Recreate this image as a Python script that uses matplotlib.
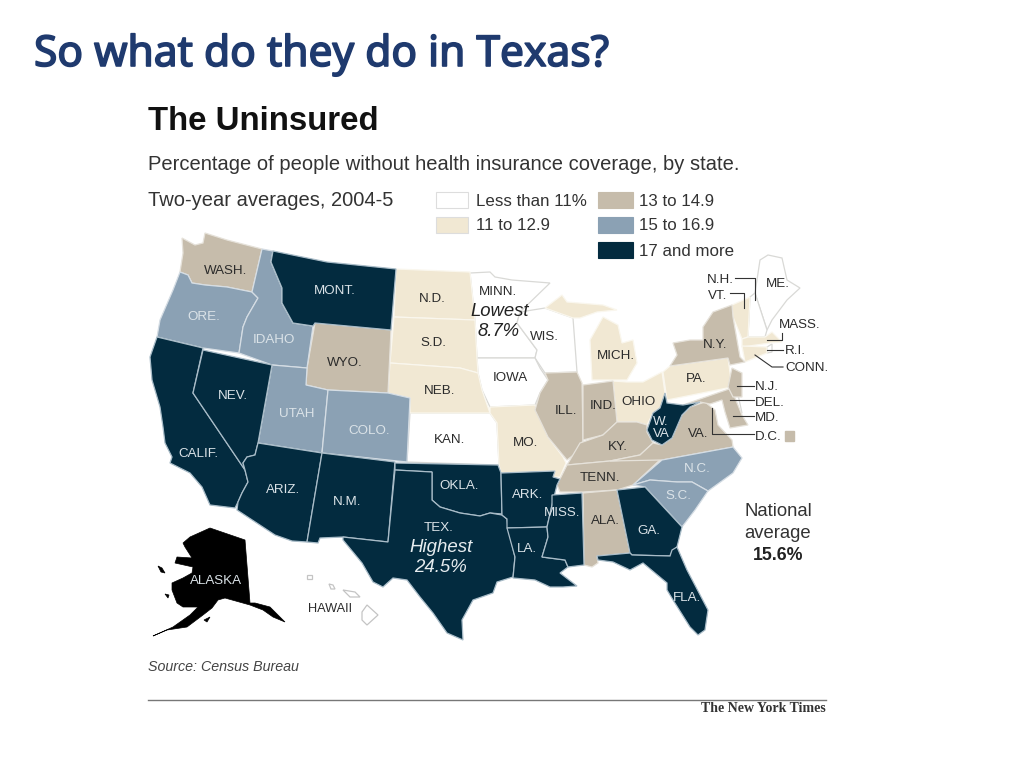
import matplotlib
matplotlib.use('Agg')
from matplotlib import pyplot as plt
from matplotlib import patheffects

# legend buckets
bucketNames = ['Less than 11%', '11 to 12.9', '13 to 14.9', '15 to 16.9', '17 and more']
bucketColors = ['#ffffff', '#f1e8d3', '#c6bcab', '#8ba1b4', '#032b3f']

# state outlines in pixels
MINN = [(470, 273), (490, 272), (495, 277), (512, 280), (550, 283), (520, 312), (517, 323), (537, 350), (535, 358), (477, 358), (475, 320)]
WIS = [(520, 312), (545, 308), (573, 318), (577, 372), (545, 373), (535, 358), (537, 350), (517, 323)]
IOWA = [(477, 358), (535, 358), (540, 368), (548, 380), (540, 393), (535, 405), (490, 407), (482, 390), (478, 373)]
KAN = [(410, 413), (490, 413), (497, 423), (499, 465), (407, 462)]

DAK_N = [(396, 269), (470, 272), (475, 320), (394, 317)]
DAK_S = [(394, 317), (475, 320), (477, 358), (478, 373), (460, 368), (390, 363)]
NEB = [(390, 363), (460, 368), (478, 373), (482, 390), (490, 413), (410, 413), (410, 398), (388, 393)]
MO = [(490, 413), (490, 407), (535, 405), (538, 413), (548, 437), (563, 457), (566, 463), (560, 477), (553, 477), (555, 471), (501, 473), (499, 465), (497, 423)]
MICH_U = [(545, 308), (562, 295), (567, 302), (603, 305), (617, 310), (597, 312), (580, 318), (573, 318)]
MICH_L = [(592, 380), (590, 340), (603, 317), (618, 325), (622, 343), (633, 340), (637, 363), (627, 380)]
OHIO = [(613, 381), (627, 382), (643, 382), (662, 372), (665, 393), (667, 403), (660, 408), (653, 413), (647, 425), (637, 422), (617, 422)]
PA = [(663, 372), (670, 366), (728, 358), (732, 387), (667, 400)]
VT = [(732, 305), (750, 297), (748, 337), (742, 339), (733, 317)]
MASS = [(748, 337), (765, 337), (772, 332), (782, 342), (770, 343), (742, 347), (742, 339)]
CONN = [(742, 346), (767, 347), (767, 353), (745, 362)]

WASH = [(182, 238), (195, 245), (203, 243), (205, 233), (227, 240), (262, 249), (252, 292), (227, 287), (205, 285), (192, 283), (188, 275), (180, 272), (183, 253)]
WYO = [(315, 323), (391, 330), (388, 393), (328, 390), (306, 385), (307, 368)]
ILL = [(545, 373), (577, 372), (582, 383), (583, 440), (580, 450), (567, 460), (548, 437), (535, 410), (540, 393), (548, 380)]
IND = [(583, 385), (613, 381), (617, 422), (603, 435), (583, 440)]
KY = [(567, 465), (580, 443), (603, 435), (617, 422), (637, 422), (647, 425), (647, 432), (653, 443), (640, 455), (610, 461)]
TENN = [(567, 465), (610, 461), (662, 458), (633, 485), (617, 490), (583, 492), (560, 492), (557, 485), (560, 479)]
ALA = [(583, 493), (617, 490), (630, 553), (597, 556), (598, 563), (592, 567), (584, 565)]
VA = [(610, 461), (640, 455), (653, 443), (662, 445), (672, 438), (682, 415), (690, 407), (705, 402), (715, 410), (718, 425), (732, 440), (733, 447), (662, 460)]
MD = [(683, 405), (700, 399), (732, 388), (735, 398), (742, 415), (748, 425), (730, 428), (725, 412), (722, 400), (710, 404), (700, 402)]
NJ = [(732, 368), (742, 373), (742, 397), (733, 397), (728, 387)]
NY = [(673, 343), (677, 355), (670, 366), (728, 358), (730, 365), (745, 362), (740, 357), (733, 317), (732, 305), (713, 312), (703, 327), (703, 340), (690, 340)]

ORE = [(180, 272), (188, 275), (192, 283), (205, 285), (227, 287), (252, 292), (258, 298), (247, 317), (243, 327), (239, 353), (203, 348), (157, 337), (160, 320), (173, 290)]
IDAHO = [(262, 249), (273, 251), (271, 262), (282, 288), (282, 303), (293, 323), (313, 326), (307, 368), (272, 365), (239, 353), (243, 327), (247, 317), (258, 298), (252, 292)]
UTAH = [(272, 365), (307, 368), (306, 385), (328, 390), (322, 453), (258, 443)]
COLO = [(328, 390), (388, 393), (410, 398), (407, 462), (322, 453)]
NC = [(633, 485), (662, 460), (733, 447), (742, 458), (733, 473), (708, 491), (692, 482), (677, 482), (650, 480)]
SC = [(633, 485), (650, 480), (677, 482), (692, 482), (708, 491), (695, 510), (682, 527), (657, 500), (645, 487)]

MONT = [(273, 251), (327, 262), (396, 269), (391, 330), (315, 323), (313, 326), (293, 323), (282, 303), (282, 288), (271, 262)]
CALIF = [(157, 337), (203, 348), (193, 393), (245, 470), (248, 482), (242, 493), (238, 502), (235, 508), (210, 505), (202, 487), (190, 473), (170, 463), (172, 457), (165, 443), (163, 427), (160, 407), (152, 380), (150, 357)]
NEV = [(203, 350), (272, 365), (258, 443), (255, 455), (247, 457), (243, 463), (245, 470), (193, 393)]
ARIZ = [(258, 443), (322, 453), (307, 542), (292, 541), (275, 535), (237, 510), (238, 502), (242, 493), (248, 482), (245, 470), (243, 463), (247, 457), (255, 455)]
NM = [(322, 453), (395, 462), (388, 542), (343, 537), (320, 538), (318, 543), (307, 542)]
OKLA = [(395, 463), (498, 465), (501, 473), (502, 514), (490, 513), (480, 516), (460, 513), (440, 507), (432, 500), (432, 472), (395, 470)]
TEX = [(395, 470), (432, 472), (432, 500), (440, 507), (460, 513), (480, 516), (490, 513), (502, 515), (507, 519), (508, 528), (515, 557), (513, 577), (497, 582), (493, 593), (473, 600), (462, 620), (463, 640), (447, 633), (433, 613), (420, 597), (407, 580), (393, 578), (383, 587), (373, 582), (362, 563), (343, 540), (343, 537), (388, 542)]
ARK = [(501, 473), (555, 471), (553, 477), (560, 479), (557, 485), (552, 505), (547, 527), (507, 528), (507, 519), (502, 515)]
LA = [(507, 528), (547, 527), (548, 537), (542, 557), (565, 560), (568, 567), (560, 573), (577, 586), (563, 587), (550, 587), (535, 580), (513, 578), (515, 557)]
MISS = [(552, 495), (582, 493), (584, 565), (568, 567), (565, 560), (542, 557), (548, 537), (547, 527), (552, 505)]
GA = [(617, 490), (645, 487), (657, 500), (682, 527), (677, 547), (672, 552), (670, 556), (632, 555), (630, 553)]
FLA = [(597, 556), (630, 553), (632, 555), (670, 556), (672, 550), (677, 547), (687, 570), (708, 610), (705, 630), (698, 635), (690, 627), (673, 600), (667, 590), (667, 583), (643, 563), (630, 570), (613, 562), (598, 560)]
WVA = [(665, 393), (667, 403), (683, 405), (700, 402), (690, 407), (682, 415), (672, 438), (662, 445), (652, 440), (647, 430), (653, 413), (660, 408)]

NH = [(750, 297), (755, 293), (767, 330), (765, 337), (748, 337)]
ME = [(755, 293), (760, 260), (768, 255), (782, 258), (787, 280), (800, 288), (787, 300), (772, 320), (767, 330)]
RI = [(767, 347), (772, 344), (772, 352), (767, 353)]
DEL = [(733, 390), (737, 390), (742, 413), (736, 413)]

ALASKA = [(183, 543), (190, 537), (210, 528), (245, 540), (250, 603), (255, 603), (270, 607), (285, 622), (273, 617), (263, 610), (250, 605), (225, 598), (218, 600), (212, 608), (203, 615), (187, 627), (167, 630), (153, 636), (173, 627), (190, 615), (198, 607), (183, 607), (177, 603), (172, 590), (172, 583), (183, 578), (192, 573), (193, 567), (175, 563), (177, 557), (192, 558), (185, 547)]
ALASKA_ISLE = [(158, 566), (162, 568), (165, 573), (161, 572)]
ALASKA_ISLE2 = [(165, 594), (169, 595), (168, 598)]
ALASKA_ISLE3 = [(204, 620), (210, 617), (207, 622)]
HAWAII_BIG = [(362, 612), (367, 605), (378, 615), (367, 625), (362, 620)]
HAWAII_MAUI = [(343, 590), (355, 592), (360, 597), (350, 597)]
HAWAII_OAHU = [(329, 584), (333, 585), (335, 589), (331, 589)]
HAWAII_KAUAI = [(307, 575), (312, 575), (312, 579), (307, 579)]

plainStates = [MINN, WIS, IOWA, KAN, ME, NH, RI, DEL]
creamStates = [DAK_N, DAK_S, NEB, MO, MICH_U, MICH_L, OHIO, PA, VT, MASS, CONN]
tanStates = [WASH, WYO, ILL, IND, KY, TENN, ALA, VA, MD, NJ, NY]
blueStates = [ORE, IDAHO, UTAH, COLO, NC, SC]
darkStates = [MONT, CALIF, NEV, ARIZ, NM, OKLA, TEX, ARK, LA, MISS, GA, FLA, WVA]
alaskaParts = [ALASKA, ALASKA_ISLE, ALASKA_ISLE2, ALASKA_ISLE3]
hawaiiIslands = [HAWAII_BIG, HAWAII_MAUI, HAWAII_OAHU, HAWAII_KAUAI]

darkLabels = [('WASH.', 226, 270), ('N.D.', 432, 298), ('S.D.', 433, 342), ('WYO.', 345, 362), ('NEB.', 440, 390),
              ('MINN.', 498, 291), ('WIS.', 544, 336), ('IOWA', 510, 377), ('KAN.', 450, 439), ('MO.', 526, 442),
              ('MICH.', 616, 355), ('N.Y.', 715, 344), ('PA.', 696, 378), ('OHIO', 638, 401), ('IND.', 603, 405),
              ('ILL.', 566, 410), ('KY.', 618, 446), ('VA.', 698, 433), ('TENN.', 600, 477), ('ALA.', 605, 520), ('ME.', 778, 283)]
lightLabels = [('MONT.', 335, 290), ('ORE.', 204, 316), ('IDAHO', 274, 339), ('UTAH', 297, 413), ('COLO.', 369, 430),
               ('NEV.', 233, 395), ('CALIF.', 198, 453), ('ARIZ.', 283, 489), ('N.M.', 347, 501), ('OKLA.', 459, 485),
               ('TEX.', 439, 527), ('ARK.', 528, 494), ('MISS.', 562, 512), ('LA.', 527, 548), ('GA.', 649, 530),
               ('FLA.', 687, 597), ('S.C.', 678, 495), ('N.C.', 697, 468), ('W.', 661, 421), ('VA', 661, 433), ('ALASKA', 216, 580)]
keyLabels = [('N.H.', 707, 279), ('VT.', 708, 295), ('MASS.', 779, 324), ('R.I.', 785, 350), ('CONN.', 785, 367),
             ('N.J.', 755, 386), ('DEL.', 755, 402), ('MD.', 755, 417), ('D.C.', 755, 436)]
# leader lines, from label to state
leaderLines = [[(735, 278), (755, 278), (755, 300)], [(730, 293), (744, 293), (744, 308)], [(767, 340), (782, 340), (782, 333)],
               [(767, 350), (783, 350)], [(755, 355), (772, 367), (783, 367)], [(737, 386), (754, 386)],
               [(730, 400), (754, 400)], [(733, 416), (754, 416)], [(712, 408), (712, 434), (754, 434)]]

plt.rcParams['font.family'] = ['Liberation Sans', 'DejaVu Sans']
fig = plt.figure(figsize=(10.24, 7.68), dpi=100)
ax = fig.add_axes([0, 0, 1, 1])
ax.set_xlim(0, 1024)
ax.set_ylim(768, 0)
ax.axis('off')

groups = [(plainStates, '#d9d9d6'), (creamStates, '#faf7ee'), (tanStates, '#e6e2da'), (blueStates, '#d5dde4'), (darkStates, '#a9bcc8')]
for i, (states, edge) in enumerate(groups):
    for outline in states:
        xs, ys = zip(*outline)
        ax.fill(xs, ys, facecolor=bucketColors[i], edgecolor=edge, linewidth=0.9, zorder=2 + i)

for outline in alaskaParts:
    xs, ys = zip(*outline)
    ax.fill(xs, ys, facecolor='#000000', edgecolor='#000000', linewidth=0.5, zorder=4)
for outline in hawaiiIslands:
    xs, ys = zip(*outline)
    ax.fill(xs, ys, facecolor='#ffffff', edgecolor='#c4c4c4', linewidth=0.9, zorder=4)

for name, x, y in darkLabels:
    ax.text(x, y + 1, name, fontsize=9.6, color='#2b2b2b', ha='center', va='center', zorder=10)
for name, x, y in lightLabels:
    ax.text(x, y + 1, name, fontsize=9.6, color='#dbe3e8', ha='center', va='center', zorder=10)
for name, x, y in keyLabels:
    ax.text(x, y + 1, name, fontsize=9.6, color='#2b2b2b', ha='left', va='center', zorder=10)
ax.text(352, 609, 'HAWAII', fontsize=9.2, color='#2b2b2b', ha='right', va='center', zorder=10)

for line in leaderLines:
    xs, ys = zip(*line)
    ax.plot(xs, ys, color='#333333', linewidth=0.8, zorder=9)
ax.fill([785, 794, 794, 785], [431, 431, 441, 441], color=bucketColors[2], zorder=9)

ax.text(500, 312, 'Lowest', fontsize=13.3, style='italic', color='#222222', ha='center', va='center', zorder=10)
ax.text(499, 332, '8.7%', fontsize=13.3, style='italic', color='#222222', ha='center', va='center', zorder=10)
ax.text(441, 547, 'Highest', fontsize=13.4, style='italic', color='#e6ecef', ha='center', va='center', zorder=10)
ax.text(440, 568, '24.5%', fontsize=13.4, style='italic', color='#e6ecef', ha='center', va='center', zorder=10)

ax.text(778, 512, 'National', fontsize=13.3, color='#333333', ha='center', va='center')
ax.text(778, 534, 'average', fontsize=13.3, color='#333333', ha='center', va='center')
ax.text(778, 556, '15.6%', fontsize=12.8, fontweight='bold', color='#222222', ha='center', va='center')

# legend
swatches = [(436, 192), (436, 217), (598, 192), (598, 217), (598, 242)]
for i, (x, y) in enumerate(swatches):
    width = 32 if x < 500 else 35
    ax.add_patch(plt.Rectangle((x, y), width, 16, facecolor=bucketColors[i], edgecolor='#dddddd' if i < 2 else bucketColors[i], linewidth=0.8))
    ax.text(x + 40 if x < 500 else x + 41, y + 9, bucketNames[i], fontsize=12.2, color='#333333', ha='left', va='center')

titleText = ax.text(34, 55, 'So what do they do in Texas?', fontsize=30.6, fontweight='bold', color='#1f3a6e', family='Noto Sans', ha='left', va='center')
titleText.set_path_effects([patheffects.withStroke(linewidth=1.2, foreground='#1f3a6e')])
ax.text(148, 122, 'The Uninsured', fontsize=23.8, fontweight='bold', color='#111111', ha='left', va='center')
ax.text(148, 165, 'Percentage of people without health insurance coverage, by state.', fontsize=14.5, color='#333333', ha='left', va='center')
ax.text(148, 200, 'Two-year averages, 2004-5', fontsize=14.5, color='#333333', ha='left', va='center')
ax.text(148, 667, 'Source: Census Bureau', fontsize=10.3, style='italic', color='#444444', ha='left', va='center')
ax.plot([148, 826], [700, 700], color='#777777', linewidth=1)
ax.text(826, 709, 'The New York Times', fontsize=10, fontweight='bold', family='Liberation Serif', color='#333333', ha='right', va='center')

fig.savefig('out.png', dpi=100)
